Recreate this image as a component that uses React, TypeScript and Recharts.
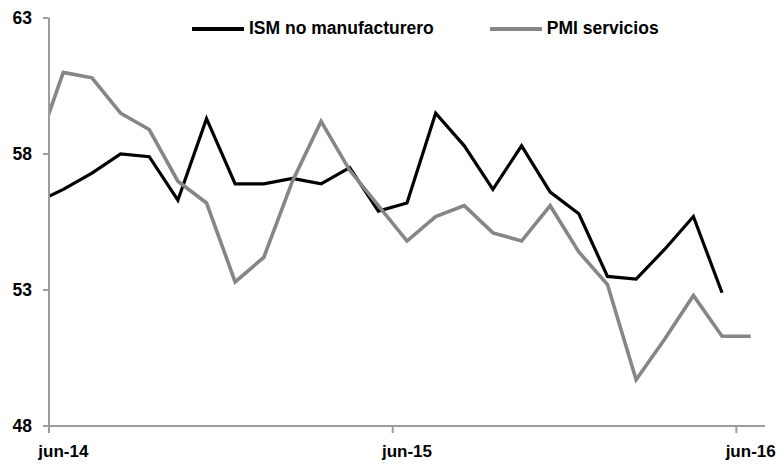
import { LineChart, Line, XAxis, YAxis, Legend } from 'recharts';

// months from may-14 (drawn only partly, cut at the left edge) to jun-16
const months = [
  'may-14', 'jun-14', 'jul-14', 'ago-14', 'sep-14', 'oct-14', 'nov-14', 'dic-14',
  'ene-15', 'feb-15', 'mar-15', 'abr-15', 'may-15', 'jun-15', 'jul-15', 'ago-15',
  'sep-15', 'oct-15', 'nov-15', 'dic-15', 'ene-16', 'feb-16', 'mar-16', 'abr-16',
  'may-16', 'jun-16',
];
const ismNoManuf = [
  56.2, 56.7, 57.3, 58.0, 57.9, 56.3, 59.3, 56.9, 56.9, 57.1, 56.9, 57.5, 55.9,
  56.2, 59.5, 58.3, 56.7, 58.3, 56.6, 55.8, 53.5, 53.4, 54.5, 55.7, 52.9, null,
];
const pmiServicios = [
  58.0, 61.0, 60.8, 59.5, 58.9, 57.0, 56.2, 53.3, 54.2, 57.0, 59.2, 57.4, 56.1,
  54.8, 55.7, 56.1, 55.1, 54.8, 56.1, 54.4, 53.2, 49.7, 51.2, 52.8, 51.3, 51.3,
];
const yTicks = [48, 53, 58, 63];
const labelMonths = ['jun-14', 'jun-15', 'jun-16'];

const data = months.map((m, i) => ({
  t: i - 1,
  month: m,
  ism: ismNoManuf[i],
  pmi: pmiServicios[i],
}));

// tick marks sit on the month boundaries, labels sit on the month centres
const labelTicks = labelMonths.map((m) => months.indexOf(m) - 1);
const boundaryTicks = labelTicks.map((t) => t - 0.5);

const font = '"Liberation Sans", Arial, sans-serif';
const axisGrey = '#9c9c9c';

function LegendContent({ payload }: any) {
  return (
    <div style={{ display: 'flex', alignItems: 'center', fontFamily: font, fontWeight: 700, fontSize: 17.5 }}>
      {(payload || []).map((p: any, i: number) => (
        <div key={i} style={{ display: 'flex', alignItems: 'center', marginRight: 56 }}>
          <svg width={52} height={6} style={{ marginRight: 5 }}>
            <line x1={1} y1={3} x2={51} y2={3} stroke={p.color} strokeWidth={4} strokeLinecap="round" />
          </svg>
          <span>{p.value}</span>
        </div>
      ))}
    </div>
  );
}

export default function App() {
  return (
    <div style={{ position: 'absolute', left: 0, top: 0, width: 778, height: 465, background: '#fff' }}>
      <LineChart width={778} height={465} data={data} margin={{ top: 18, right: 13, bottom: 0, left: 0 }}>
        <XAxis
          xAxisId="a"
          dataKey="t"
          type="number"
          domain={[-0.5, 24.5]}
          allowDataOverflow
          ticks={boundaryTicks}
          interval={0}
          tickFormatter={() => ''}
          tickSize={7}
          height={19}
          stroke={axisGrey}
          strokeWidth={2}
        />
        <XAxis
          xAxisId="b"
          dataKey="t"
          type="number"
          domain={[-0.5, 24.5]}
          allowDataOverflow
          ticks={labelTicks}
          tickFormatter={(v: number) => months[v + 1]}
          interval={0}
          axisLine={false}
          tickLine={false}
          tickSize={0}
          tickMargin={0}
          height={20}
          tick={{ fill: '#000', fontSize: 17, fontWeight: 700, fontFamily: font }}
        />
        <YAxis
          domain={[48, 63]}
          ticks={yTicks}
          interval={0}
          width={49}
          tickSize={6}
          tickMargin={11}
          stroke={axisGrey}
          strokeWidth={2}
          tick={{ fill: '#000', fontSize: 17.5, fontWeight: 700, fontFamily: font }}
        />
        <Legend
          layout="horizontal"
          verticalAlign="middle"
          align="center"
          content={<LegendContent />}
          wrapperStyle={{ top: 18, left: 192, width: 570 }}
        />
        <Line
          xAxisId="a"
          type="linear"
          dataKey="ism"
          name="ISM no manufacturero"
          stroke="#000000"
          strokeWidth={3.2}
          dot={false}
          activeDot={false}
          isAnimationActive={false}
        />
        <Line
          xAxisId="a"
          type="linear"
          dataKey="pmi"
          name="PMI servicios"
          stroke="#868686"
          strokeWidth={3.6}
          dot={false}
          activeDot={false}
          isAnimationActive={false}
        />
      </LineChart>
    </div>
  );
}
